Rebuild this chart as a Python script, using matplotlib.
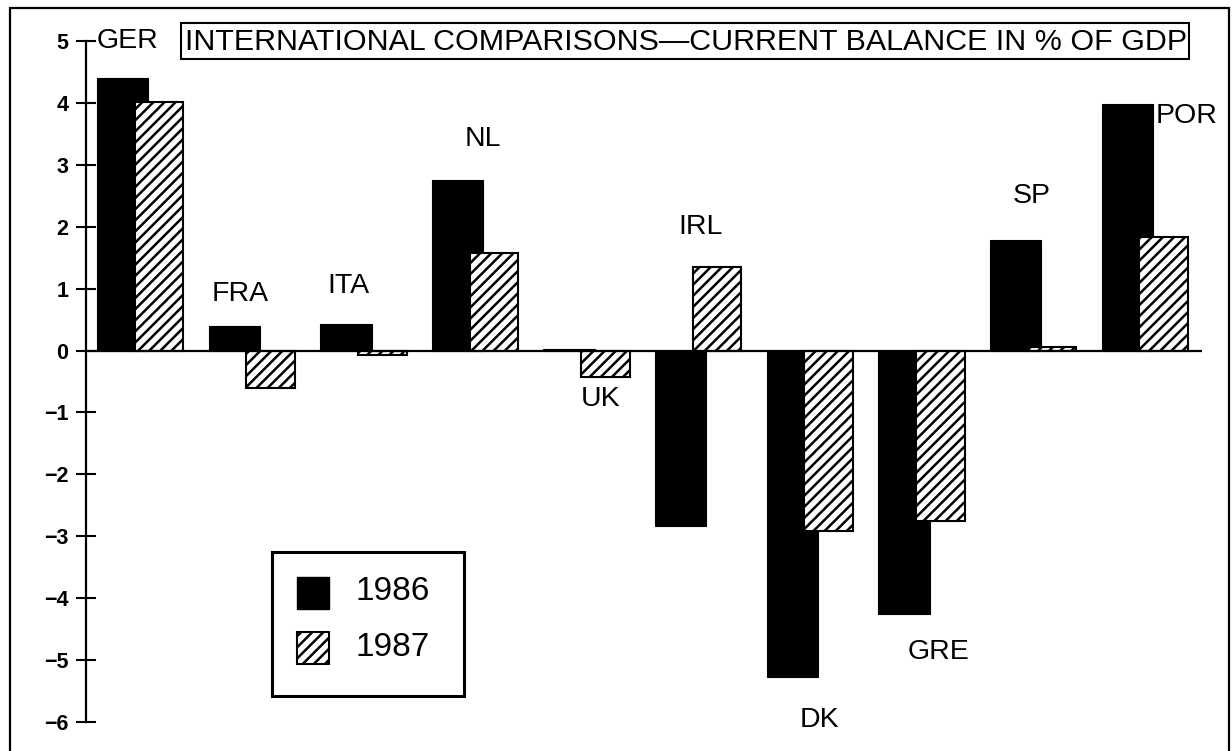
import matplotlib
matplotlib.use('Agg')
import matplotlib.pyplot as plt
from matplotlib.patches import Rectangle
import numpy as np

# current balance, % of GDP
countries = ['GER', 'FRA', 'ITA', 'NL', 'UK', 'IRL', 'DK', 'GRE', 'SP', 'POR']
bal_1986 = [4.40, 0.40, 0.43, 2.75, 0.02, -2.83, -5.27, -4.25, 1.78, 3.98]
bal_1987 = [4.02, -0.60, -0.08, 1.58, -0.42, 1.35, -2.92, -2.76, 0.05, 1.83]
years = ['1986', '1987']
title = 'INTERNATIONAL COMPARISONS\u2014CURRENT BALANCE IN % OF GDP'

# where the country names sit (group units, value units)
label_x = [0.0, 1.28, 2.25, 3.46, 4.51, 5.41, 6.47, 7.54, 8.37, 9.76]
label_y = [5.0, 0.91, 1.05, 3.41, -0.79, 1.99, -5.97, -4.87, 2.50, 3.79]

plt.rcParams['font.family'] = ['Liberation Sans', 'DejaVu Sans']
plt.rcParams['hatch.linewidth'] = 1.8

W, H = 1232, 751
fig = plt.figure(figsize=(W / 100, H / 100), dpi=100)


def fx(px):
    return px / W


def fy(py):
    return 1 - py / H


# axes placed so the y axis is at x=86px, 5 at 41px and -6 at 722px
ax = fig.add_axes([fx(86), fy(722), fx(1202) - fx(86), fy(41) - fy(722)])

x = np.arange(len(countries))
ax.bar(x, bal_1986, width=0.46, align='edge', color='black',
       edgecolor='black', lw=0.8, zorder=2)
ax.bar(x + 0.338, bal_1987, width=0.435, align='edge', facecolor='white',
       edgecolor='black', hatch='///', lw=1.5, zorder=3)
ax.axhline(0, color='black', lw=1.6, zorder=4)

for i, name in enumerate(countries):
    ha = 'left' if i == 0 else 'center'
    ax.text(label_x[i], label_y[i], name, ha=ha, va='center', fontsize=20.5)

ax.set_xlim(-0.0986, 9.90)
ax.set_ylim(-6, 5)
ax.set_yticks(range(-6, 6))
ax.set_xticks([])
for s in ['top', 'right', 'bottom']:
    ax.spines[s].set_visible(False)
ax.spines['left'].set_linewidth(1.6)
ax.tick_params(axis='y', direction='inout', length=13.7, width=1.5,
               pad=6.0, labelsize=15.5)
for lbl in ax.get_yticklabels():
    lbl.set_fontweight('bold')
ax.patch.set_visible(False)

# outer frame
fig.patches.append(Rectangle((fx(10), fy(760)), fx(1229) - fx(10), fy(8) - fy(760),
                             transform=fig.transFigure, fill=False,
                             edgecolor='black', lw=1.6))

# boxed title
fig.patches.append(Rectangle((fx(181), fy(59)), fx(1189) - fx(181), fy(23) - fy(59),
                             transform=fig.transFigure, facecolor='white',
                             edgecolor='black', lw=1.5, zorder=5))
fig.text(fx(686), fy(42), title, ha='center', va='center', fontsize=21.9, zorder=6)

# legend
fig.patches.append(Rectangle((fx(272), fy(696)), fx(464) - fx(272), fy(552) - fy(696),
                             transform=fig.transFigure, facecolor='white',
                             edgecolor='black', lw=2.2, zorder=5))
fig.patches.append(Rectangle((fx(297), fy(609)), fx(329) - fx(297), fy(577) - fy(609),
                             transform=fig.transFigure, facecolor='black',
                             edgecolor='black', lw=1, zorder=6))
fig.patches.append(Rectangle((fx(297), fy(664)), fx(329) - fx(297), fy(632) - fy(664),
                             transform=fig.transFigure, facecolor='white',
                             edgecolor='black', hatch='///', lw=1.5, zorder=6))
fig.text(fx(356), fy(591), years[0], ha='left', va='center', fontsize=24, zorder=7)
fig.text(fx(356), fy(647), years[1], ha='left', va='center', fontsize=24, zorder=7)

fig.savefig('out.png', dpi=100)
